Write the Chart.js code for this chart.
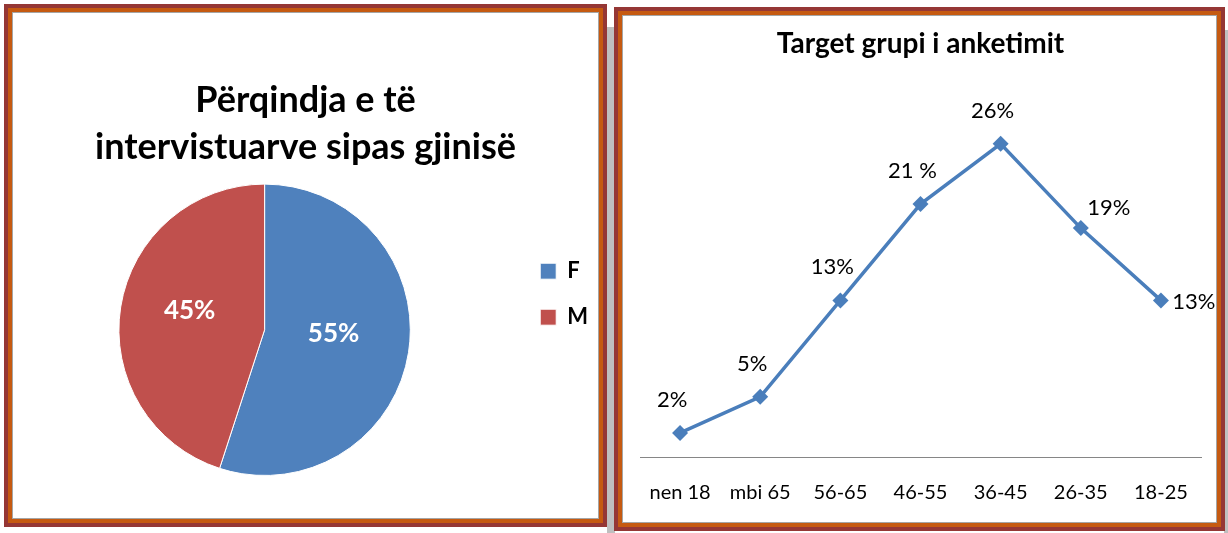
<!DOCTYPE html>
<html>
<head>
<meta charset="utf-8">
<script src="https://cdn.jsdelivr.net/npm/chart.js@4"></script>
<style>
  body { margin: 0; background: #fff; width: 1228px; height: 533px; position: relative; overflow: hidden; }
  .shadow { position: absolute; background: #bfbfbf; }
  .panel { position: absolute; box-sizing: border-box; border: 4px solid #953735; background: #fff; }
  .panel .in1 { position: absolute; inset: 0; border: 4px solid #c55a11; }
  .panel .in2 { position: absolute; inset: 0; border: 1px solid #a5a5a5; background: #fff; }
  .panel canvas { position: absolute; left: 0; top: 0; }
</style>
</head>
<body>
<div class="shadow" style="left:607px;top:27px;width:8px;height:506px"></div>
<div class="shadow" style="left:1224px;top:30px;width:4px;height:503px"></div>

<div class="panel" style="left:4px;top:4px;width:603px;height:523px">
  <div class="in1"><div class="in2"><div style="position:absolute;inset:0"><canvas id="gender"></canvas></div></div></div>
</div>
<div class="panel" style="left:614px;top:7px;width:611px;height:524px">
  <div class="in1"><div class="in2"><div style="position:absolute;inset:0"><canvas id="target"></canvas></div></div></div>
</div>

<script>
const genderLabels = ['F', 'M'];
const genderValues = [55, 45];

const ageLabels = ['nen 18', 'mbi 65', '56-65', '46-55', '36-45', '26-35', '18-25'];
const ageValues = [2, 5, 13, 21, 26, 19, 13];
const ageValueText = ['2%', '5%', '13%', '21 %', '26%', '19%', '13%'];

const font = 'Lato, "Open Sans", sans-serif';

// white % labels inside the slices
const sliceLabels = {
  id: 'sliceLabels',
  afterDatasetsDraw(chart) {
    const c = chart.ctx;
    const meta = chart.getDatasetMeta(0);
    c.save();
    c.fillStyle = '#fff';
    c.font = 'bold 26px ' + font;
    c.textAlign = 'center';
    c.textBaseline = 'middle';
    meta.data.forEach((arc, i) => {
      const p = arc.tooltipPosition();
      c.fillText(chart.data.datasets[0].data[i] + '%', p.x - 3, p.y - 8);
    });
    c.restore();
  }
};

// value labels next to the line points
const pointLabels = {
  id: 'pointLabels',
  afterDatasetsDraw(chart, args, opts) {
    const c = chart.ctx;
    const meta = chart.getDatasetMeta(0);
    c.save();
    c.fillStyle = '#000';
    c.font = opts.font;
    c.textAlign = 'center';
    c.textBaseline = 'middle';
    meta.data.forEach((pt, i) => {
      let dx = -8, dy = -33;
      if (opts.place[i] === 'aboveRight') { dx = 28; dy = -20; }
      if (opts.place[i] === 'right') { dx = 33; dy = 2; }
      c.fillText(ageValueText[i], pt.x + dx, pt.y + dy);
    });
    c.restore();
  }
};

function drawGender()
{
  const ctx = document.getElementById('gender');

  new Chart(ctx, {
    type: 'pie',
    data: {
      labels: genderLabels,
      datasets: [{
        data: genderValues,
        backgroundColor: ['#4f81bd', '#c0504d'],
        borderColor: '#fff',
        borderWidth: 1
      }]
    },
    options: {
      responsive: true,
      maintainAspectRatio: false,
      animation: false,
      layout: { padding: { left: 0, right: 0, bottom: 42 } },
      plugins: {
        title: {
          display: true,
          text: ['Përqindja e të', 'intervistuarve sipas gjinisë'],
          color: '#000',
          font: { family: font, size: 36, weight: 'bold', lineHeight: 1.3 },
          padding: { top: 64, bottom: 13 }
        },
        legend: {
          position: 'right',
          title: { display: true, text: '', padding: { top: 85, bottom: 0 } },
          labels: {
            color: '#000',
            boxWidth: 16,
            boxHeight: 16,
            padding: 24,
            font: { family: font, size: 22, weight: 'bold' }
          }
        },
        tooltip: { enabled: false }
      }
    },
    plugins: [sliceLabels]
  });
}
drawGender()

function drawTarget()
{
  const ctx = document.getElementById('target');

  new Chart(ctx, {
    type: 'line',
    data: {
      labels: ageLabels,
      datasets: [{
        data: ageValues,
        borderColor: '#4a7ebb',
        backgroundColor: '#4a7ebb',
        borderWidth: 3.5,
        pointStyle: 'rectRot',
        pointRadius: 8,
        pointBorderWidth: 0,
        tension: 0
      }]
    },
    options: {
      responsive: true,
      maintainAspectRatio: false,
      animation: false,
      layout: { padding: { left: 17, right: 15, bottom: -7 } },
      scales: {
        x: {
          offset: true,
          grid: { display: false, drawTicks: false },
          border: { color: '#868686', width: 1 },
          ticks: { color: '#000', padding: 24, font: { family: font, size: 20 } }
        },
        y: {
          display: false,
          min: 0,
          max: 30
        }
      },
      plugins: {
        title: {
          display: true,
          text: 'Target grupi i anketimit',
          color: '#000',
          font: { family: font, size: 28, weight: 'bold' },
          padding: { top: 11, bottom: 35 }
        },
        legend: { display: false },
        tooltip: { enabled: false },
        pointLabels: {
          font: '22px ' + font,
          place: ['above', 'above', 'above', 'above', 'above', 'aboveRight', 'right']
        }
      }
    },
    plugins: [pointLabels]
  });
}
drawTarget()
</script>
</body>
</html>
